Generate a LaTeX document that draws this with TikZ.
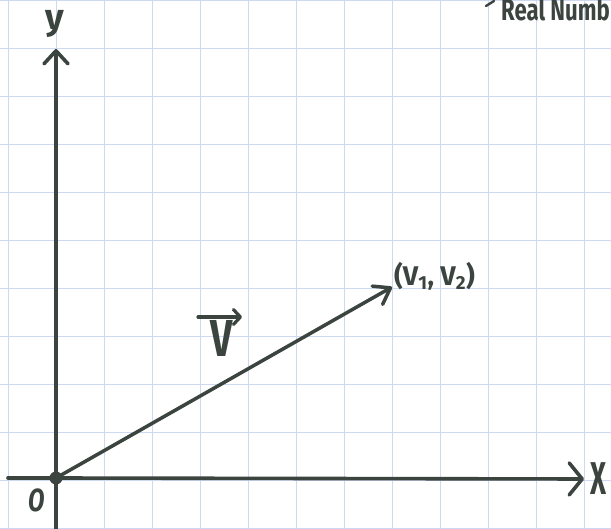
\documentclass[tikz,border=0pt]{standalone}
\usepackage{fontspec}
\setmainfont{Fira Sans}
\usetikzlibrary{arrows.meta}
\definecolor{ink}{RGB}{60,68,64}
\definecolor{gridblue}{RGB}{205,216,242}
\tikzset{
  gridline/.style={draw=gridblue, line width=0.9pt},
  axisline/.style={draw=ink, line width=3.6pt, line cap=round},
  vecline/.style={draw=ink, line width=3.5pt, line cap=round},
  barb/.style={-{Straight Barb[length=13pt,width=24pt,line cap=round,line join=round]}},
  inklabel/.style={text=ink, inner sep=0pt},
}
\begin{document}
\begin{tikzpicture}[x=1pt,y=-1pt]
\useasboundingbox (0,0) rectangle (611,529);
\fill[white] (0,0) rectangle (611,529);
% grid paper
\foreach \gx in {8,56,...,584} {\draw[gridline] (\gx,0) -- (\gx,529);}
\foreach \gy in {0,48,...,528} {\draw[gridline] (0,\gy) -- (611,\gy);}
% header fragment
\draw[ink, line width=2.4pt, line cap=round] (486,6) .. controls (490,4) .. (494,1);
\node[inklabel, anchor=base east, font=\bfseries\fontsize{30}{30}\selectfont, xscale=0.74] (title) at (610,21) {Real Numb};
% points
\coordinate (O) at (56,478);
\coordinate (ytip) at (56,49);
\coordinate (ybot) at (56,529);
\coordinate (xtip) at (584,479);
\coordinate (xleft) at (8,478);
\coordinate (vtip) at (392,287);
% axes
\draw[axisline] (O) -- (ybot);
\draw[axisline] (O) -- (xleft);
\draw[axisline, barb] (O) -- (ytip);
\draw[axisline, -{Straight Barb[length=13pt,width=32pt,line cap=round,line join=round]}] (O) -- (xtip);
% vector
\draw[vecline, -{Straight Barb[length=15pt,width=21pt,line cap=round,line join=round]}] (O) -- (vtip);
\fill[ink] (O) circle (6.5);
% labels
\node[inklabel, font=\bfseries\fontsize{36}{36}\selectfont] (ylab) at (55,24) {y};
\node[inklabel, font=\bfseries\fontsize{46}{46}\selectfont, xscale=0.6] (xlab) at (599,479) {X};
\node[inklabel, font=\bfseries\itshape\fontsize{32}{32}\selectfont, xscale=0.75] (olab) at (37,500) {O};
\node[inklabel, font=\bfseries\fontsize{27}{27}\selectfont, anchor=west] (vend) at (394,276) {(V\textsubscript{1}, V\textsubscript{2})};
\node[inklabel, font=\bfseries\fontsize{52}{52}\selectfont, xscale=0.75] (vname) at (222,338) {V};
\draw[ink, line width=3.2pt, line cap=round, -{Straight Barb[length=7pt,width=15pt,line cap=round,line join=round]}] ([xshift=-24pt,yshift=21pt]vname.center) -- ([xshift=20pt,yshift=21pt]vname.center);
\end{tikzpicture}
\end{document}
